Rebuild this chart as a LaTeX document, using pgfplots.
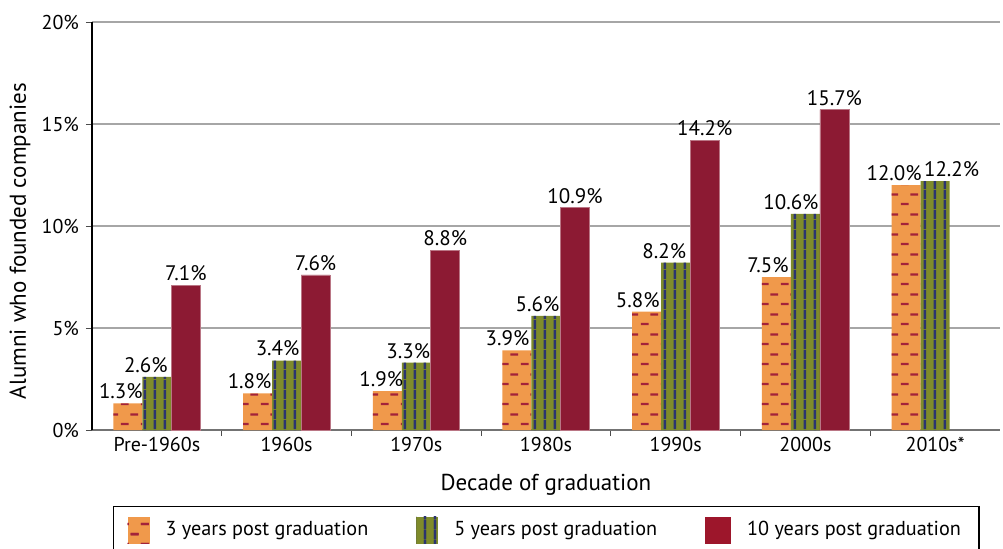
\documentclass[border=0pt]{standalone}
\usepackage{fontspec}
\setmainfont{PT Sans}
\usepackage{pgfplots}
\pgfplotsset{compat=1.18}
\usepackage{pgfplotstable}
\usetikzlibrary{patterns}

\definecolor{cOrange}{HTML}{F0994B}
\definecolor{cDash}{HTML}{A3233A}
\definecolor{cOlive}{HTML}{7F8B2B}
\definecolor{cNavy}{HTML}{2B3470}
\definecolor{cRed}{HTML}{8C1A33}
\definecolor{cGrid}{HTML}{A6A6A6}

\pgfdeclarepatternformonly{brickdash}{\pgfpointorigin}{\pgfqpoint{10pt}{10pt}}{\pgfqpoint{10pt}{10pt}}{%
  \pgfpathrectangle{\pgfqpoint{0.5pt}{2pt}}{\pgfqpoint{4pt}{1.2pt}}%
  \pgfpathrectangle{\pgfqpoint{5.5pt}{7pt}}{\pgfqpoint{4pt}{1.2pt}}%
  \pgfusepath{fill}}
\pgfdeclarepatternformonly{vstripe}{\pgfpointorigin}{\pgfqpoint{5pt}{5pt}}{\pgfqpoint{5pt}{5pt}}{%
  \pgfpathrectangle{\pgfqpoint{2pt}{0pt}}{\pgfqpoint{1.3pt}{5pt}}%
  \pgfusepath{fill}}

\pgfplotstableread{
x y dx
0 1.3 -3.5
1 1.8 -4
2 1.9 -3
3 3.9 -4.75
4 5.8 -4.5
5 7.5 -4.25
6 12.0 -6
}\threeyr
\pgfplotstableread{
x y dx
0 2.6 -5.5
1 3.4 -4.5
2 3.3 -4
3 5.6 -4.25
4 8.2 -5.75
5 10.6 -7.25
6 12.2 8.25
}\fiveyr
\pgfplotstableread{
x y dx
0 7.1 0
1 7.6 0
2 8.8 0
3 10.9 0
4 14.2 0
5 15.7 0
}\tenyr

\begin{document}
\begin{tikzpicture}
\useasboundingbox (-46pt,-59pt) rectangle (455.5pt,215pt);
\begin{axis}[
  at={(0,0)}, anchor=south west,
  scale only axis, width=454pt, height=204pt,
  ybar=0pt, bar width=14.5pt,
  xmin=-0.5, xmax=6.5, ymin=0, ymax=20,
  axis lines*=left,
  axis line style={-},
  x axis line style={draw=black!55, line width=1pt},
  y axis line style={draw=black, line width=0.7pt},
  xtick={0.5,1.5,2.5,3.5,4.5,5.5},
  xticklabels={},
  extra x ticks={0,1,2,3,4,5,6},
  extra x tick labels={Pre-1960s,1960s,1970s,1980s,1990s,2000s,2010s*},
  extra x tick style={grid=none, major tick length=0pt},
  ytick={0,5,10,15,20},
  yticklabel={\pgfmathprintnumber{\tick}\%},
  /pgf/number format/assume math mode=true,
  tick align=outside,
  major tick length=3pt,
  tick style={draw=black!70, line width=0.5pt},
  ymajorgrids,
  grid style={draw=cGrid, line width=0.6pt},
  ticklabel style={font=\fontsize{10}{12}\selectfont},
  every axis x label/.style={at={(rel axis cs:0.5,0)}, yshift=-30pt, anchor=base},
  every axis y label/.style={at={(rel axis cs:0,0.463)}, xshift=-36pt, rotate=90, anchor=center},
  label style={font=\fontsize{11.5}{13}\selectfont},
  xlabel={Decade of graduation},
  ylabel={Alumni who founded companies},
  point meta=y,
  nodes near coords={\pgfmathprintnumber[fixed,fixed zerofill,precision=1]{\pgfplotspointmeta}\%},
  every node near coord/.append style={font=\fontsize{10.5}{12}\selectfont, inner sep=2pt},
  legend columns=3,
  legend style={at={(rel axis cs:0.0231,0)}, yshift=-38pt, anchor=north west,
    draw=black, line width=0.6pt, inner xsep=7pt, inner ysep=5pt,
    font=\fontsize{10.1}{12}\selectfont,
    /tikz/every odd column/.append style={column sep=6pt},
    /tikz/every even column/.append style={column sep=22pt}},
]
\addplot[fill=cOrange, draw=none, postaction={pattern=brickdash, pattern color=cDash},
  visualization depends on={\thisrow{dx} \as \dx},
  nodes near coords style={xshift=\dx pt},
  legend image code/.code={\draw[fill=cOrange, draw=none, postaction={pattern=brickdash, pattern color=cDash}] (0pt,-6.75pt) rectangle (11pt,6.75pt);}]
  table[x=x,y=y] {\threeyr};
\addlegendentry{3 years post graduation}
\addplot[fill=cOlive, draw=none, postaction={pattern=vstripe, pattern color=cNavy},
  visualization depends on={\thisrow{dx} \as \dx},
  nodes near coords style={xshift=\dx pt},
  legend image code/.code={\draw[fill=cOlive, draw=none, postaction={pattern=vstripe, pattern color=cNavy}] (0pt,-6.75pt) rectangle (11pt,6.75pt);}]
  table[x=x,y=y] {\fiveyr};
\addlegendentry{5 years post graduation}
\addplot[fill=cRed, draw=cRed!60!white, line width=0.3pt,
  legend image code/.code={\draw[fill=cRed!85!red, draw=none] (0pt,-6.75pt) rectangle (13pt,6.75pt);}]
  table[x=x,y=y] {\tenyr};
\addlegendentry{10 years post graduation}
\end{axis}
\end{tikzpicture}
\end{document}
